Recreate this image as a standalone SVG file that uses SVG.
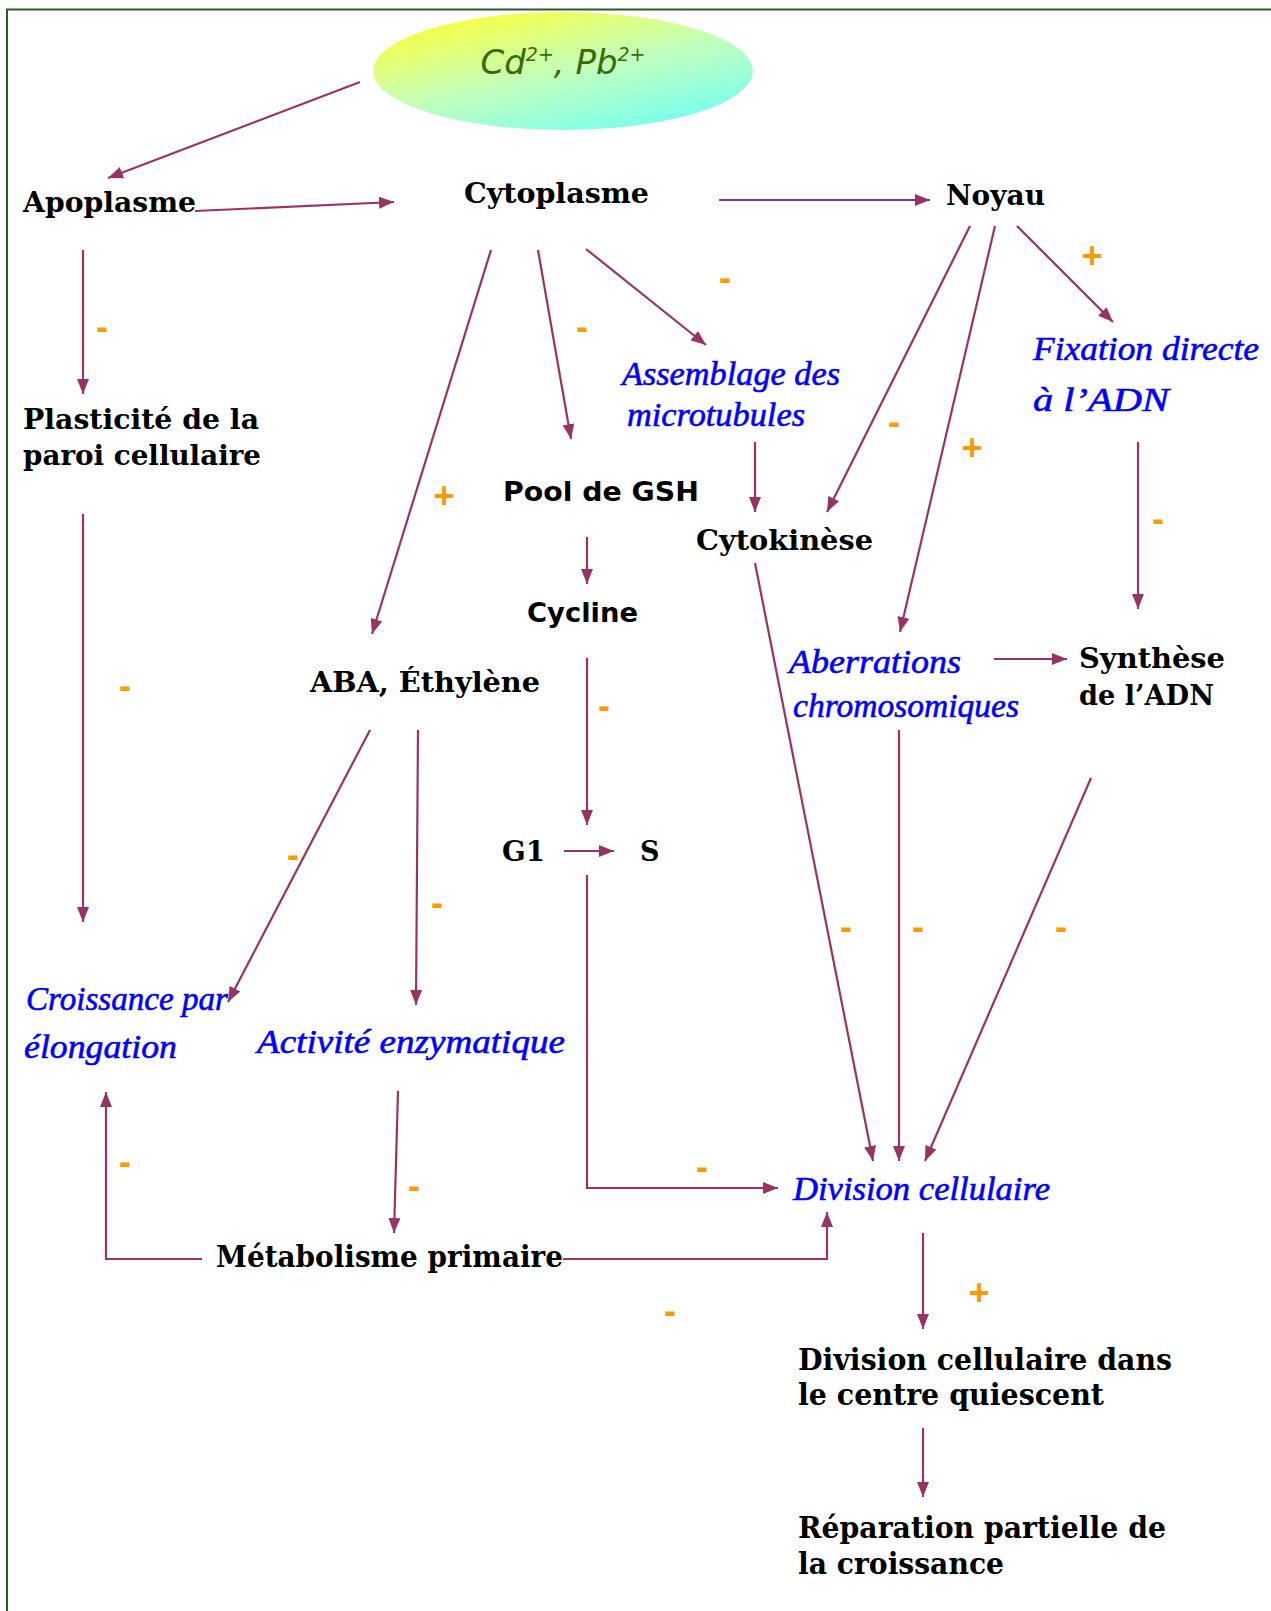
<svg xmlns="http://www.w3.org/2000/svg" width="1271" height="1611" viewBox="0 0 1271 1611">
<defs>
<linearGradient id="g" x1="0.15" y1="0" x2="0.85" y2="1">
<stop offset="0" stop-color="#ffff33"/>
<stop offset="0.5" stop-color="#c4ffbb"/>
<stop offset="1" stop-color="#70fff5"/>
</linearGradient>
<marker id="ah" markerUnits="userSpaceOnUse" markerWidth="16" markerHeight="12" refX="15" refY="6" orient="auto">
<path d="M0,0 L15,6 L0,12 z" fill="#993366"/>
</marker>
<style>
.b{font-family:"DejaVu Serif","Liberation Serif",serif;font-weight:bold;font-size:27px;fill:#000}
.n{font-family:"DejaVu Serif","Liberation Serif",serif;font-weight:bold;font-size:30px;fill:#000}
.t{font-family:"DejaVu Sans","Liberation Sans",sans-serif;font-weight:bold;font-size:27px;fill:#000}
.i{font-family:"Liberation Serif","DejaVu Serif",serif;font-style:italic;font-size:34px;fill:#0000ff;stroke:#0000ff;stroke-width:0.6}
.s{font-family:"Liberation Sans","DejaVu Sans",sans-serif;font-weight:bold;font-size:36px;fill:#ff9900}
.c path,.c line,.c polyline{stroke:#993366;stroke-width:2.2;fill:none;marker-end:url(#ah)}
</style>
</defs>
<rect width="1271" height="1611" fill="#ffffff"/>
<rect x="7" y="9.5" width="1300" height="1700" fill="none" stroke="#2d5a27" stroke-width="2"/>

<g id="source">
<ellipse cx="563" cy="71" rx="190" ry="59" fill="url(#g)"/>
<text x="563" y="74" text-anchor="middle" font-family="DejaVu Sans, sans-serif" font-style="italic" font-size="34" fill="#3a6b00">Cd<tspan dy="-13" font-size="19">2+</tspan><tspan dy="13">, Pb</tspan><tspan dy="-13" font-size="19">2+</tspan></text>
</g>

<g id="apoplasme"><text class="b" x="23" y="212" textLength="173" lengthAdjust="spacingAndGlyphs">Apoplasme</text></g>
<g id="cytoplasme"><text class="b" x="464" y="203" textLength="185" lengthAdjust="spacingAndGlyphs">Cytoplasme</text></g>
<g id="noyau"><text class="b" x="946" y="205" textLength="99" lengthAdjust="spacingAndGlyphs">Noyau</text></g>
<g id="plasticite">
<text class="b" x="23" y="429" textLength="236" lengthAdjust="spacingAndGlyphs">Plasticité de la</text>
<text class="b" x="23" y="465" textLength="238" lengthAdjust="spacingAndGlyphs">paroi cellulaire</text>
</g>
<g id="pool"><text class="t" x="503" y="501" textLength="196" lengthAdjust="spacingAndGlyphs">Pool de GSH</text></g>
<g id="assemblage">
<text class="i" x="622" y="385" textLength="218" lengthAdjust="spacingAndGlyphs">Assemblage des</text>
<text class="i" x="627" y="426" textLength="178" lengthAdjust="spacingAndGlyphs">microtubules</text>
</g>
<g id="cytokinese"><text class="b" x="696" y="550" textLength="177" lengthAdjust="spacingAndGlyphs">Cytokinèse</text></g>
<g id="fixation">
<text class="i" x="1033" y="360" textLength="226" lengthAdjust="spacingAndGlyphs">Fixation directe</text>
<text class="i" x="1033" y="411" textLength="136" lengthAdjust="spacingAndGlyphs">à l’ADN</text>
</g>
<g id="cycline"><text class="t" x="527" y="622" textLength="111" lengthAdjust="spacingAndGlyphs">Cycline</text></g>
<g id="aba"><text class="b" x="310" y="692" textLength="230" lengthAdjust="spacingAndGlyphs">ABA, Éthylène</text></g>
<g id="aberrations">
<text class="i" x="789" y="673" textLength="172" lengthAdjust="spacingAndGlyphs">Aberrations</text>
<text class="i" x="793" y="717" textLength="226" lengthAdjust="spacingAndGlyphs">chromosomiques</text>
</g>
<g id="synthese">
<text class="b" x="1079" y="668" textLength="146" lengthAdjust="spacingAndGlyphs">Synthèse</text>
<text class="b" x="1079" y="705" textLength="135" lengthAdjust="spacingAndGlyphs">de l’ADN</text>
</g>
<g id="g1"><text class="b" x="502" y="861" textLength="43" lengthAdjust="spacingAndGlyphs">G1</text></g>
<g id="s"><text class="b" x="640" y="861">S</text></g>
<g id="croissance">
<text class="i" x="26" y="1010" textLength="202" lengthAdjust="spacingAndGlyphs">Croissance par</text>
<text class="i" x="24" y="1058" textLength="153" lengthAdjust="spacingAndGlyphs">élongation</text>
</g>
<g id="activite"><text class="i" x="257" y="1053" textLength="308" lengthAdjust="spacingAndGlyphs">Activité enzymatique</text></g>
<g id="division"><text class="i" x="793" y="1200" textLength="257" lengthAdjust="spacingAndGlyphs">Division cellulaire</text></g>
<g id="metabolisme"><text class="n" x="216" y="1267" textLength="347" lengthAdjust="spacingAndGlyphs">Métabolisme primaire</text></g>
<g id="division-qc">
<text class="n" x="798" y="1370" textLength="374" lengthAdjust="spacingAndGlyphs">Division cellulaire dans</text>
<text class="n" x="798" y="1405" textLength="306" lengthAdjust="spacingAndGlyphs">le centre quiescent</text>
</g>
<g id="reparation">
<text class="n" x="798" y="1538" textLength="368" lengthAdjust="spacingAndGlyphs">Réparation partielle de</text>
<text class="n" x="798" y="1574" textLength="206" lengthAdjust="spacingAndGlyphs">la croissance</text>
</g>

<g id="connectors" class="c">
<line x1="360" y1="82" x2="108" y2="178"/>
<line x1="195" y1="211" x2="394" y2="202"/>
<line x1="719" y1="200" x2="930" y2="200"/>
<line x1="83" y1="250" x2="83" y2="394"/>
<line x1="83" y1="514" x2="83" y2="922"/>
<line x1="491" y1="250" x2="372" y2="634"/>
<line x1="538" y1="250" x2="571" y2="439"/>
<line x1="586" y1="249" x2="706" y2="345"/>
<line x1="755" y1="442" x2="755" y2="512"/>
<line x1="970" y1="226" x2="827" y2="512"/>
<line x1="995" y1="226" x2="900" y2="632"/>
<line x1="1017" y1="226" x2="1113" y2="322"/>
<line x1="1138" y1="442" x2="1138" y2="609"/>
<line x1="587" y1="537" x2="587" y2="584"/>
<line x1="587" y1="658" x2="587" y2="825"/>
<line x1="564" y1="851" x2="614" y2="851"/>
<polyline points="587,875 587,1188 778,1188"/>
<line x1="370" y1="730" x2="228" y2="1002"/>
<line x1="418" y1="730" x2="416" y2="1005"/>
<line x1="994" y1="659" x2="1067" y2="659"/>
<line x1="755" y1="563" x2="873" y2="1161"/>
<line x1="899" y1="730" x2="899" y2="1161"/>
<line x1="1091" y1="778" x2="925" y2="1161"/>
<line x1="398" y1="1091" x2="394" y2="1233"/>
<polyline points="202,1259 106,1259 106,1092"/>
<polyline points="563,1259 827,1259 827,1212"/>
<line x1="923" y1="1233" x2="923" y2="1329"/>
<line x1="923" y1="1428" x2="923" y2="1497"/>
</g>

<g id="signs">
<text class="s" x="102" y="339" text-anchor="middle">-</text>
<text class="s" x="725" y="290" text-anchor="middle">-</text>
<text class="s" x="582" y="339" text-anchor="middle">-</text>
<text class="s" x="1092" y="268" text-anchor="middle">+</text>
<text class="s" x="894" y="434" text-anchor="middle">-</text>
<text class="s" x="972" y="460" text-anchor="middle">+</text>
<text class="s" x="444" y="508" text-anchor="middle">+</text>
<text class="s" x="1158" y="531" text-anchor="middle">-</text>
<text class="s" x="125" y="698" text-anchor="middle">-</text>
<text class="s" x="604" y="718" text-anchor="middle" font-size="14">-</text>
<text class="s" x="293" y="867" text-anchor="middle">-</text>
<text class="s" x="437" y="915" text-anchor="middle">-</text>
<text class="s" x="846" y="939" text-anchor="middle">-</text>
<text class="s" x="918" y="939" text-anchor="middle">-</text>
<text class="s" x="1061" y="939" text-anchor="middle">-</text>
<text class="s" x="125" y="1174" text-anchor="middle">-</text>
<text class="s" x="702" y="1179" text-anchor="middle">-</text>
<text class="s" x="414" y="1198" text-anchor="middle">-</text>
<text class="s" x="670" y="1323" text-anchor="middle">-</text>
<text class="s" x="979" y="1305" text-anchor="middle">+</text>
</g>
</svg>
